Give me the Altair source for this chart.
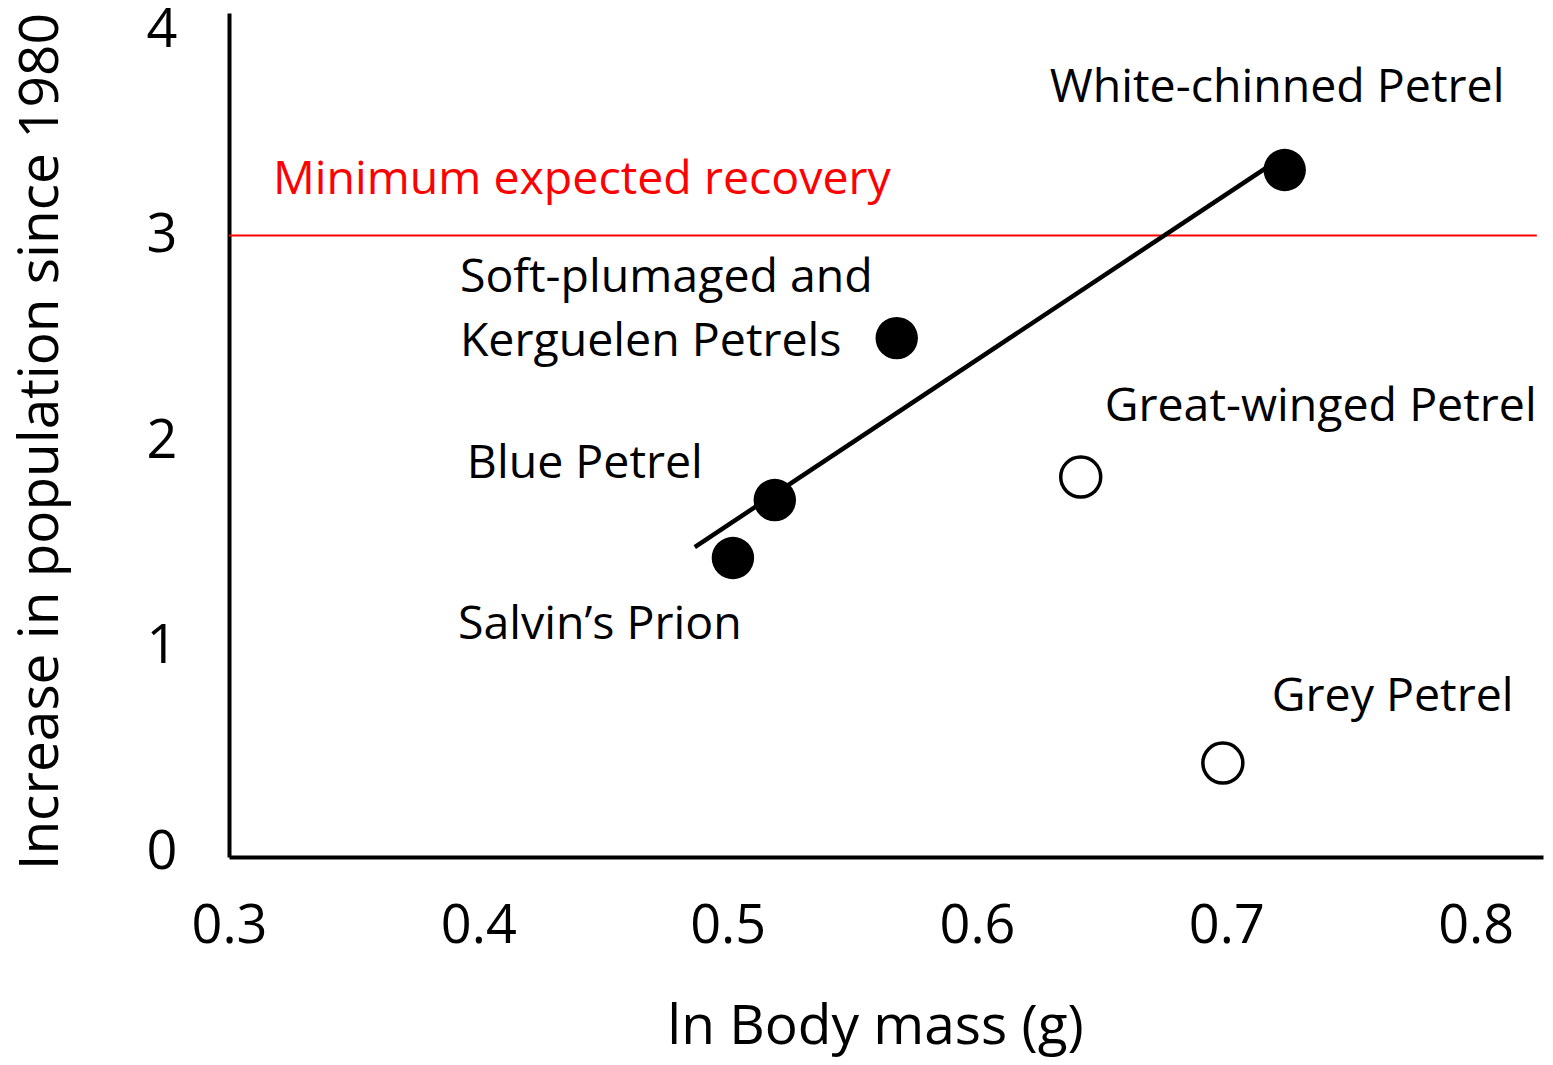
import altair as alt
import pandas as pd

# Species data
species = ["White-chinned Petrel", "Soft-plumaged and Kerguelen Petrels", "Blue Petrel",
           "Salvin's Prion", "Great-winged Petrel", "Grey Petrel"]
body_mass = [0.7234, 0.5678, 0.5189, 0.5021, 0.6416, 0.6986]
increase = [3.319, 2.501, 1.713, 1.431, 1.825, 0.433]
marker = ["filled", "filled", "filled", "filled", "open", "open"]

# Regression line end points
fit_x = [0.4868, 0.7185]
fit_y = [1.484, 3.35]

# Minimum expected recovery threshold
threshold = 3
threshold_x = [0.3, 0.8245]

# Text labels and their anchor points (data coordinates)
label_text = ["White-chinned Petrel", "Soft-plumaged and", "Kerguelen Petrels",
              "Great-winged Petrel", "Blue Petrel", "Salvin\u2019s Prion", "Grey Petrel"]
label_x = [0.6292, 0.3926, 0.3926, 0.6512, 0.3954, 0.3918, 0.7182]
label_y = [3.718, 2.793, 2.482, 2.165, 1.888, 1.105, 0.754]

x_ticks = [0.3, 0.4, 0.5, 0.6, 0.7, 0.8]
y_ticks = [0, 1, 2, 3, 4]

FONT = "Open Sans"

pts = pd.DataFrame({"species": species, "x": body_mass, "y": increase, "marker": marker})
fit = pd.DataFrame({"x": fit_x, "y": fit_y})
thr = pd.DataFrame({"x": [threshold_x[0]], "x2": [threshold_x[1]], "y": [threshold]})
labels = pd.DataFrame({"text": label_text, "x": label_x, "y": label_y})
red_label = pd.DataFrame({"text": ["Minimum expected recovery"], "x": [0.3176], "y": [3.27]})

xscale = alt.Scale(domain=[0.3, 0.827], nice=False, zero=False)
yscale = alt.Scale(domain=[-0.024, 4.083], nice=False, zero=False)

xaxis = alt.Axis(values=x_ticks, format=".1f", title="ln Body mass (g)", grid=False, ticks=False,
                 domainColor="black", domainWidth=4, labelFont=FONT, labelFontSize=54,
                 labelColor="black", labelPadding=42, labelFlush=False,
                 titleFont=FONT, titleFontSize=55, titleFontWeight="normal", titleColor="black",
                 titleX=646, titleY=186, titleBaseline="alphabetic", titleAlign="center")
yaxis = alt.Axis(values=y_ticks, format="d", title="Increase in population since 1980", grid=False,
                 ticks=False, domainColor="black", domainWidth=4, labelFont=FONT, labelFontSize=54,
                 labelColor="black", labelPadding=52, labelFlush=False,
                 titleFont=FONT, titleFontSize=55, titleFontWeight="normal", titleColor="black",
                 titleX=-172, titleY=428, titleAngle=-90, titleBaseline="alphabetic",
                 titleAlign="center")

base_x = alt.X("x:Q", scale=xscale, axis=xaxis)
base_y = alt.Y("y:Q", scale=yscale, axis=yaxis)

rule = alt.Chart(thr).mark_rule(color="#ff0000", strokeWidth=2).encode(
    x=alt.X("x:Q", scale=xscale, axis=xaxis), x2="x2:Q", y=alt.Y("y:Q", scale=yscale, axis=yaxis))

line = alt.Chart(fit).mark_line(color="black", strokeWidth=4.5).encode(x=base_x, y=base_y)

filled = alt.Chart(pts).transform_filter(alt.datum.marker == "filled").mark_circle(
    size=1800, color="black", opacity=1).encode(x=base_x, y=base_y)

open_pts = alt.Chart(pts).transform_filter(alt.datum.marker == "open").mark_point(
    shape="circle", size=1600, filled=False, color="black", strokeWidth=3.5, opacity=1).encode(
    x=base_x, y=base_y)

text = alt.Chart(labels).mark_text(align="left", baseline="middle", font=FONT, fontSize=46.5,
                                    color="black").encode(x=base_x, y=base_y, text="text:N")

red_text = alt.Chart(red_label).mark_text(align="left", baseline="middle", font=FONT,
                                           fontSize=46.5, color="#ff0000").encode(
    x=base_x, y=base_y, text="text:N")

chart = alt.layer(rule, line, filled, open_pts, text, red_text).properties(
    width=1314, height=844,
    autosize=alt.AutoSizeParams(type="none"),
    padding={"left": 221, "top": 5, "right": 2, "bottom": 200},
    background="white",
).configure_view(stroke=None)

chart.save("out.html", embed_options={"renderer": "svg", "actions": False})
